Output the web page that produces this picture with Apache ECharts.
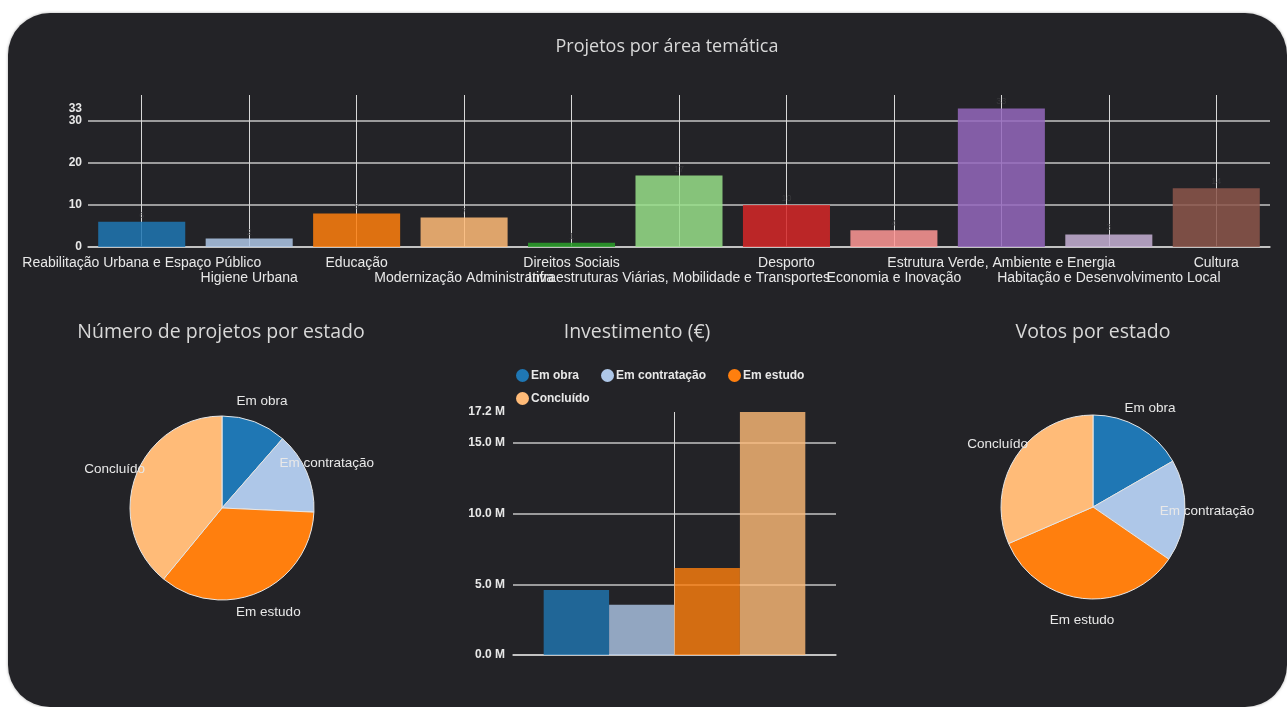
<!DOCTYPE html>
<html>
<head>
<meta charset="utf-8">
<script src="https://cdn.jsdelivr.net/npm/echarts@6/dist/echarts.min.js"></script>
<style>
  html, body { margin: 0; padding: 0; background: #ffffff; }
  #panel {
    position: absolute; left: 8px; top: 13px; width: 1279px; height: 694px;
    background: #232327; border-radius: 42px;
    box-shadow: 0 0 3px rgba(0,0,0,0.35);
  }
  #main { position: absolute; left: 0; top: 0; width: 1287px; height: 707px; }
</style>
</head>
<body>
<div id="panel"></div>
<div id="main"></div>
<script>
// top chart: projects per thematic area
var areas = [
  "Reabilitação Urbana e Espaço Público",
  "Higiene Urbana",
  "Educação",
  "Modernização Administrativa",
  "Direitos Sociais",
  "Infraestruturas Viárias, Mobilidade e Transportes",
  "Desporto",
  "Economia e Inovação",
  "Estrutura Verde, Ambiente e Energia",
  "Habitação e Desenvolvimento Local",
  "Cultura"
];
var areaCounts = [6, 2, 8, 7, 1, 17, 10, 4, 33, 3, 14];
var areaColors = ["#1f77b4", "#aec7e8", "#ff7f0e", "#ffbb78", "#2ca02c", "#98df8a",
                  "#d62728", "#ff9896", "#9467bd", "#c5b0d5", "#8c564b"];

// bottom charts: by state
var states = ["Em obra", "Em contratação", "Em estudo", "Concluído"];
var stateColors = ["#1f77b4", "#aec7e8", "#ff7f0e", "#ffbb78"];
var projectsByState = [12, 15, 37, 41];
var investment = [4600000, 3550000, 6150000, 17200000];
var votesByState = [1670, 1790, 3390, 3150];

var lightText = "#e8e8e8";
var labelFont = "Liberation Sans";
var titleFont = "Open Sans";

function pieData(values) {
  return states.map(function (s, i) {
    return { name: s, value: values[i], itemStyle: { color: stateColors[i] } };
  });
}

function pieSeries(center, values) {
  return [
    {
      type: "pie",
      center: center,
      radius: 92,
      startAngle: 90,
      data: pieData(values),
      label: { show: false },
      labelLine: { show: false },
      itemStyle: { borderColor: "#e6e6e6", borderWidth: 1 },
      emphasis: { scale: false }
    },
    {
      // transparent ring only used to place the labels around the pie
      type: "pie",
      center: center,
      radius: 222,
      startAngle: 90,
      silent: true,
      data: values.map(function (v, i) { return { name: states[i], value: v }; }),
      itemStyle: { color: "rgba(0,0,0,0)", borderWidth: 0 },
      label: {
        show: true, position: "inside", color: lightText,
        fontFamily: labelFont, fontSize: 13.5, formatter: "{b}"
      },
      labelLine: { show: false },
      emphasis: { disabled: true }
    }
  ];
}

var investSeries = states.map(function (s, i) {
  return {
    name: s,
    type: "bar",
    xAxisIndex: 1,
    yAxisIndex: 1,
    barGap: "0%",
    barCategoryGap: "19%",
    itemStyle: { color: stateColors[i], opacity: 0.8 },
    data: [investment[i]]
  };
});

function legendItems(names) {
  return names.map(function (n) {
    return { name: n, itemStyle: { color: stateColors[states.indexOf(n)], opacity: 1 } };
  });
}

var legendBase = {
  left: 511,
  icon: "circle",
  itemWidth: 13,
  itemHeight: 13,
  itemGap: 22,
  textStyle: { color: lightText, fontFamily: labelFont, fontSize: 12, fontWeight: "bold", padding: [0, 0, 0, -3] }
};

var option = {
  backgroundColor: "transparent",
  animation: false,
  graphic: [
    { type: "text", x: 667, y: 47, style: { text: "Projetos por área temática", align: "center", verticalAlign: "middle", fill: "#d8d8d8", font: "18px " + titleFont } },
    { type: "text", x: 221, y: 332, style: { text: "Número de projetos por estado", align: "center", verticalAlign: "middle", fill: "#d8d8d8", font: "19.5px " + titleFont } },
    { type: "text", x: 637, y: 332, style: { text: "Investimento (€)", align: "center", verticalAlign: "middle", fill: "#d8d8d8", font: "19.5px " + titleFont } },
    { type: "text", x: 1093, y: 332, style: { text: "Votos por estado", align: "center", verticalAlign: "middle", fill: "#d8d8d8", font: "19.5px " + titleFont } }
  ],
  legend: [
    Object.assign({ top: 364, data: legendItems(states.slice(0, 3)) }, legendBase),
    Object.assign({ top: 387, data: legendItems(states.slice(3)) }, legendBase)
  ],
  grid: [
    { left: 88, right: 17, top: 108.4, bottom: 460 },
    { left: 513, width: 323, top: 412, bottom: 52 }
  ],
  xAxis: [
    {
      type: "category",
      gridIndex: 0,
      data: areas,
      axisLine: { lineStyle: { color: "#cfcfcf", width: 1.5 } },
      axisTick: { show: true, alignWithLabel: true, inside: true, length: 152, interval: 0, lineStyle: { color: "#d8d8d8", width: 1 } },
      axisLabel: {
        interval: 0, margin: 9, color: lightText, fontFamily: labelFont, fontSize: 14, lineHeight: 15,
        formatter: function (v, i) { return i % 2 ? "\n" + v : v; }
      },
      splitLine: { show: false }
    },
    {
      type: "category",
      gridIndex: 1,
      data: ["Investimento"],
      axisLine: { lineStyle: { color: "#cfcfcf", width: 1.5 } },
      axisTick: { show: true, alignWithLabel: true, inside: true, length: 243, lineStyle: { color: "#d8d8d8", width: 1 } },
      axisLabel: { show: false }
    }
  ],
  yAxis: [
    {
      type: "value",
      gridIndex: 0,
      min: 0,
      max: 33,
      interval: 10,
      axisLine: { show: false },
      axisTick: { show: false },
      axisLabel: { color: lightText, fontFamily: labelFont, fontSize: 12, fontWeight: "bold", margin: 6 },
      splitLine: { showMaxLine: false, lineStyle: { color: "#c4c4c4", width: 1.5 } }
    },
    {
      type: "value",
      gridIndex: 1,
      min: 0,
      max: "dataMax",
      interval: 5000000,
      axisLine: { show: false },
      axisTick: { show: false },
      axisLabel: {
        color: lightText, fontFamily: labelFont, fontSize: 12, fontWeight: "bold", margin: 8,
        formatter: function (v) { return (v / 1e6).toFixed(1) + " M"; }
      },
      splitLine: { showMaxLine: false, lineStyle: { color: "#c4c4c4", width: 1.5 } }
    }
  ],
  series: [
    {
      type: "bar",
      xAxisIndex: 0,
      yAxisIndex: 0,
      barCategoryGap: "19%",
      data: areaCounts,
      itemStyle: {
        opacity: 0.85,
        color: function (p) { return areaColors[p.dataIndex]; }
      },
      label: { show: true, position: "top", distance: 2, color: "#3c3c40", fontSize: 9, fontFamily: labelFont }
    }
  ].concat(investSeries, pieSeries([222, 508], projectsByState), pieSeries([1093, 507], votesByState))
};

var chart = echarts.init(document.getElementById("main"));
chart.setOption(option);
</script>
</body>
</html>
